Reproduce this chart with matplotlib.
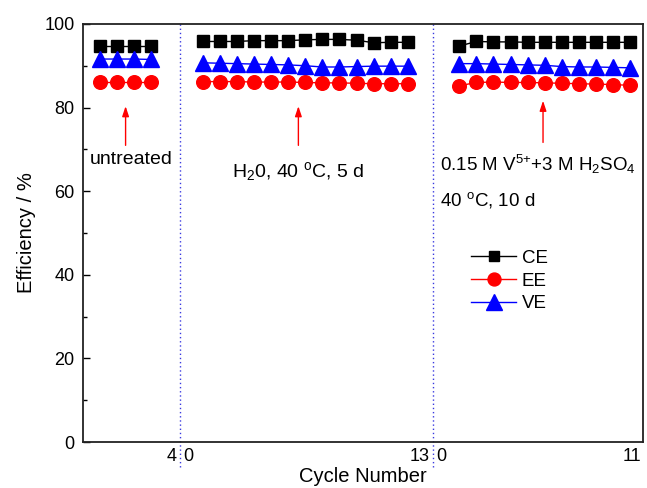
import matplotlib
matplotlib.use("Agg")
import matplotlib.pyplot as plt
from matplotlib.lines import Line2D

plt.rcParams["font.family"] = ["Liberation Sans", "DejaVu Sans"]
plt.rcParams["mathtext.fontset"] = "custom"
plt.rcParams["mathtext.rm"] = "Liberation Sans"
plt.rcParams["mathtext.it"] = "Liberation Sans"

# --- data (three test runs, one per treatment) ---
cycles_untreated = [1, 2, 3, 4]
ce_untreated = [94.6, 94.6, 94.6, 94.6]
ee_untreated = [86.2, 86.2, 86.2, 86.2]
ve_untreated = [91.6, 91.6, 91.6, 91.5]

cycles_water = [1, 2, 3, 4, 5, 6, 7, 8, 9, 10, 11, 12, 13]
ce_water = [95.8, 95.8, 95.8, 96.0, 96.0, 96.0, 96.2, 96.3, 96.3, 96.1, 95.5, 95.6, 95.6]
ee_water = [86.2, 86.2, 86.2, 86.1, 86.1, 86.1, 86.0, 85.9, 85.9, 85.8, 85.7, 85.7, 85.7]
ve_water = [90.7, 90.6, 90.5, 90.4, 90.3, 90.2, 90.0, 89.7, 89.7, 89.8, 89.9, 89.9, 89.9]

cycles_vanadium = [1, 2, 3, 4, 5, 6, 7, 8, 9, 10, 11]
ce_vanadium = [94.7, 95.8, 95.7, 95.7, 95.6, 95.6, 95.6, 95.6, 95.6, 95.6, 95.6]
ee_vanadium = [85.2, 86.0, 86.1, 86.0, 86.0, 85.9, 85.8, 85.7, 85.6, 85.5, 85.3]
ve_vanadium = [90.5, 90.5, 90.4, 90.3, 90.2, 90.1, 89.8, 89.7, 89.7, 89.6, 89.5]

segment_end_labels = [("4", "0"), ("13", "0")]
last_label = "11"

# layout of the broken x axis (positions, not data)
offsets = [0, 6, 21]
separators = [5.67, 20.47]
x_max = 32.75

fig = plt.figure(figsize=(6.47, 4.88), dpi=100)
ax = fig.add_axes([0.128, 0.094, 0.866, 0.857])

segments = [
    (cycles_untreated, ce_untreated, ee_untreated, ve_untreated),
    (cycles_water, ce_water, ee_water, ve_water),
    (cycles_vanadium, ce_vanadium, ee_vanadium, ve_vanadium),
]
styles = {
    "CE": dict(color="black", marker="s", ms=8.3),
    "EE": dict(color="red", marker="o", ms=9.8),
    "VE": dict(color="blue", marker="^", ms=11.5),
}

for off, (cyc, ce, ee, ve) in zip(offsets, segments):
    xs = [c + off for c in cyc]
    for name, ys in [("CE", ce), ("EE", ee), ("VE", ve)]:
        st = styles[name]
        ax.plot(xs, ys, color=st["color"], marker=st["marker"], ms=st["ms"],
                lw=1.0, mec=st["color"], mfc=st["color"])

# dotted separators, running a bit below the axis
xtrans = ax.get_xaxis_transform()
for sx in separators:
    ax.plot([sx, sx], [-0.06, 1], transform=xtrans, ls=(0, (1, 2)),
            color="#3a3ae0", lw=1.0, clip_on=False)

# x "tick" labels on each side of the separators
for sx, (left, right) in zip(separators, segment_end_labels):
    ax.text(sx - 0.2, -0.015, left, transform=xtrans, ha="right", va="top", fontsize=13)
    ax.text(sx + 0.2, -0.015, right, transform=xtrans, ha="left", va="top", fontsize=13)
ax.text(x_max - 0.1, -0.015, last_label, transform=xtrans, ha="right", va="top", fontsize=13)

# annotations
arrow = dict(arrowstyle="-|>,head_length=0.6,head_width=0.2", color="red", lw=1.0)
ax.annotate("", xy=(2.5, 81.0), xytext=(2.5, 70.3), arrowprops=arrow)
ax.annotate("", xy=(12.6, 81.0), xytext=(12.6, 70.3), arrowprops=arrow)
ax.annotate("", xy=(26.9, 82.3), xytext=(26.9, 71.0), arrowprops=arrow)

ax.text(2.85, 67.5, "untreated", ha="center", va="center", fontsize=14)
ax.text(12.6, 64.6, r"H$_2$0, 40 $^o$C, 5 d", ha="center", va="center", fontsize=14)
ax.text(20.9, 66.3, r"0.15 M V$^{5{+}}$+3 M H$_2$SO$_4$", ha="left", va="center", fontsize=13.5)
ax.text(20.9, 57.9, r"40 $^o$C, 10 d", ha="left", va="center", fontsize=13.5)

# legend
handles = [Line2D([], [], color=st["color"], marker=st["marker"], ms=st["ms"] * 0.95, lw=1.0)
           for st in styles.values()]
ax.legend(handles, list(styles.keys()), loc="center left", bbox_to_anchor=(0.67, 0.385),
          frameon=False, fontsize=13.5, handlelength=2.4, labelspacing=0.3,
          handletextpad=0.3, borderpad=0.2)

ax.set_xlim(0, x_max)
ax.set_ylim(0, 100)
ax.set_xticks([])
ax.set_yticks([0, 20, 40, 60, 80, 100])
ax.set_yticks([10, 30, 50, 70, 90], minor=True)
ax.tick_params(axis="y", which="major", direction="in", length=5, width=1,
               labelsize=13, pad=6)
ax.tick_params(axis="y", which="minor", direction="in", length=3, width=1)
for sp in ax.spines.values():
    sp.set_linewidth(1.3)
    sp.set_color("#222222")

ax.set_ylabel("Efficiency / %", fontsize=14.5, labelpad=6)
ax.set_xlabel("Cycle Number", fontsize=14.5, labelpad=18)

fig.savefig("out.png", dpi=100)
